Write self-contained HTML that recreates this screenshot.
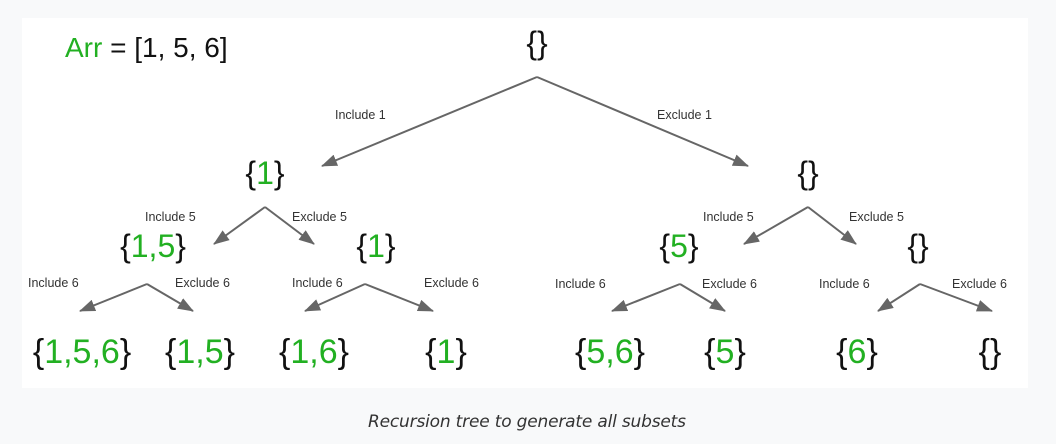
<!DOCTYPE html>
<html><head><style>
html,body{margin:0;padding:0;background:#f8f9fa;}
svg{display:block}
</style></head><body>
<svg width="1056" height="444" viewBox="0 0 1056 444" xmlns="http://www.w3.org/2000/svg">
<defs>
<marker id="b" markerWidth="16" markerHeight="12" refX="15" refY="6" orient="auto" markerUnits="userSpaceOnUse" viewBox="0 0 16 12"><path d="M0,0 L16,6 L0,12 z" fill="#666"/></marker></defs>
<rect x="22" y="18" width="1006" height="370" fill="#fff"/>
<g font-family="Liberation Sans, sans-serif">
<text x="65" y="57" font-size="28"><tspan fill="#22b022">Arr</tspan><tspan fill="#111"> = [1, 5, 6]</tspan></text>
<g stroke="#666" stroke-width="2" fill="none">
<path d="M537,77 L322,166" marker-end="url(#b)"/>
<path d="M537,77 L748,166" marker-end="url(#b)"/>
<path d="M265,207 L214,244" marker-end="url(#b)"/>
<path d="M265,207 L314,244" marker-end="url(#b)"/>
<path d="M808,207 L744,244" marker-end="url(#b)"/>
<path d="M808,207 L856,244" marker-end="url(#b)"/>
<path d="M147,284 L80,311" marker-end="url(#b)"/>
<path d="M147,284 L193,311" marker-end="url(#b)"/>
<path d="M365,284 L305,311" marker-end="url(#b)"/>
<path d="M365,284 L433,311" marker-end="url(#b)"/>
<path d="M680,284 L612,311" marker-end="url(#b)"/>
<path d="M680,284 L725,311" marker-end="url(#b)"/>
<path d="M920,284 L878,311" marker-end="url(#b)"/>
<path d="M920,284 L992,311" marker-end="url(#b)"/>
</g>
<g font-size="12.5" fill="#333">
<text x="335" y="119">Include 1</text>
<text x="657" y="119">Exclude 1</text>
<text x="145" y="221">Include 5</text>
<text x="292" y="221">Exclude 5</text>
<text x="703" y="221">Include 5</text>
<text x="849" y="221">Exclude 5</text>
<text x="28" y="287">Include 6</text>
<text x="175" y="287">Exclude 6</text>
<text x="292" y="287">Include 6</text>
<text x="424" y="287">Exclude 6</text>
<text x="555" y="288">Include 6</text>
<text x="702" y="288">Exclude 6</text>
<text x="819" y="288">Include 6</text>
<text x="952" y="288">Exclude 6</text>
</g>
<g font-size="32" fill="#111" text-anchor="middle">
<text x="537" y="54">{}</text>
<text x="265" y="184">{<tspan fill="#22b022">1</tspan>}</text>
<text x="808" y="184">{}</text>
<text x="153" y="257">{<tspan fill="#22b022">1,5</tspan>}</text>
<text x="376" y="257">{<tspan fill="#22b022">1</tspan>}</text>
<text x="679" y="257">{<tspan fill="#22b022">5</tspan>}</text>
<text x="918" y="257">{}</text>
</g>
<g font-size="34" fill="#111" text-anchor="middle">
<text x="82" y="363">{<tspan fill="#22b022">1,5,6</tspan>}</text>
<text x="200" y="363">{<tspan fill="#22b022">1,5</tspan>}</text>
<text x="314" y="363">{<tspan fill="#22b022">1,6</tspan>}</text>
<text x="446" y="363">{<tspan fill="#22b022">1</tspan>}</text>
<text x="610" y="363">{<tspan fill="#22b022">5,6</tspan>}</text>
<text x="725" y="363">{<tspan fill="#22b022">5</tspan>}</text>
<text x="857" y="363">{<tspan fill="#22b022">6</tspan>}</text>
<text x="990" y="363">{}</text>
</g>
<text x="527" y="427" font-size="17" font-style="italic" fill="#333" text-anchor="middle" font-family="DejaVu Sans, sans-serif" textLength="318">Recursion tree to generate all subsets</text>
</g>
</svg>
</body></html>
